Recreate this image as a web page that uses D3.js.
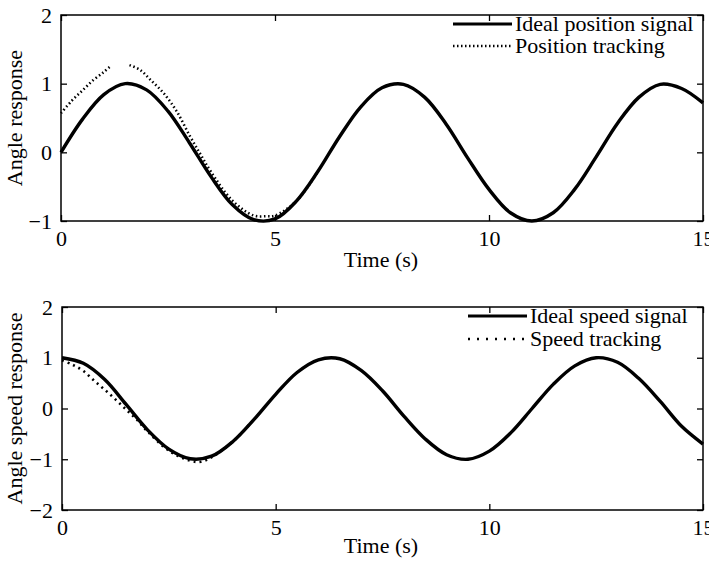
<!DOCTYPE html>
<html>
<head>
<meta charset="utf-8">
<script src="https://cdn.jsdelivr.net/npm/d3@7"></script>
<style>
  body { margin: 0; background: #fff; }
  text { font-family: "Liberation Serif", "Times New Roman", serif; fill: #000; }
  .axis text { font-size: 22px; }
  .axis line { stroke: #000; stroke-width: 1.3; }
  .axis path { display: none; }
</style>
</head>
<body>
<div id="chart"></div>
<script>
// time samples (s)
var timeIdeal  = [0, 0.5, 1, 1.5, 2, 2.5, 3, 3.5, 4, 4.5, 5, 5.5, 6, 6.5, 7, 7.5,
                  8, 8.5, 9, 9.5, 10, 10.5, 11, 11.5, 12, 12.5, 13, 13.5, 14, 14.5, 15];
var posIdeal   = [0, 0.48, 0.84, 1.0, 0.91, 0.6, 0.14, -0.35, -0.76, -0.98, -0.97, -0.71, -0.28, 0.22, 0.66, 0.94,
                  0.99, 0.8, 0.41, -0.08, -0.54, -0.88, -1.0, -0.88, -0.54, -0.07, 0.42, 0.8, 0.99, 0.93, 0.72];
var speedIdeal = [1.0, 0.89, 0.57, 0.08, -0.42, -0.8, -0.99, -0.94, -0.65, -0.21, 0.28, 0.71, 0.96, 0.98, 0.75, 0.35,
                  -0.15, -0.6, -0.91, -1.0, -0.84, -0.48, 0.0, 0.48, 0.84, 1.0, 0.91, 0.59, 0.14, -0.35, -0.7];

// tracking curves (null = gap in the dotted trace); after they merge they sit under the ideal line
var posTrackT   = [0, 0.25, 0.5, 0.75, 1.0, 1.15, 1.4, 1.6, 1.85, 2.1, 2.4, 2.7, 3.0, 3.25, 3.5, 4.0, 4.5, 4.8, 5.0, 5.5, 6.0];
var posTrack    = [0.57, 0.75, 0.9, 1.05, 1.17, 1.25, null, 1.27, 1.2, 1.05, 0.86, 0.6, 0.25, -0.02, -0.28, -0.7, -0.92, -0.93, -0.92, -0.71, -0.28];
var speedTrackT = [0, 0.25, 0.5, 0.75, 1.0, 1.25, 1.5, 1.75, 2.0, 2.5, 3.0, 3.25, 3.5, 4.0, 4.5];
var speedTrack  = [0.95, 0.86, 0.74, 0.55, 0.37, 0.18, -0.02, -0.22, -0.45, -0.83, -1.03, -1.05, -0.96, -0.65, -0.21];

var xTicks      = [0, 5, 10, 15];
var posYTicks   = [-1, 0, 1, 2];
var speedYTicks = [-2, -1, 0, 1, 2];

var W = 709, H = 564;
var svg = d3.select('#chart').append('svg')
            .attr('width', W)
            .attr('height', H);
svg.append('rect').attr('width', W).attr('height', H).attr('fill', '#fff');

var fmt = d3.format('d');

function zip(ts, vs) {
  return ts.map(function(t, i) { return {t: t, v: vs[i]}; });
}

function drawPanel(p) {
  var x = d3.scaleLinear().domain([0, 15]).range([p.left, p.right]);
  var y = d3.scaleLinear().domain(p.yDomain).range([p.bottom, p.top]);
  var g = svg.append('g');

  var line = d3.line()
               .defined(function(d) { return d.v !== null; })
               .x(function(d) { return x(d.t); })
               .y(function(d) { return y(Math.max(d.v, p.yDomain[0])); })
               .curve(d3.curveCatmullRom);

  g.append('path').datum(zip(p.trackT, p.track))
   .attr('d', line)
   .attr('fill', 'none')
   .attr('stroke', '#000')
   .attr('stroke-width', 2.6)
   .attr('stroke-dasharray', p.dash);

  g.append('path').datum(zip(timeIdeal, p.ideal))
   .attr('d', line)
   .attr('fill', 'none')
   .attr('stroke', '#000')
   .attr('stroke-width', 3.4)
   .attr('stroke-linejoin', 'round');

  // frame
  g.append('rect')
   .attr('x', p.left).attr('y', p.top)
   .attr('width', p.right - p.left).attr('height', p.bottom - p.top)
   .attr('fill', 'none').attr('stroke', '#000').attr('stroke-width', 1.5);

  // inward ticks on every side, labels only left/bottom
  g.append('g').attr('class', 'axis')
   .attr('transform', 'translate(0,' + p.bottom + ')')
   .call(d3.axisBottom(x).tickValues(xTicks).tickSizeInner(-6).tickSizeOuter(0).tickPadding(9).tickFormat(fmt));
  g.append('g').attr('class', 'axis')
   .attr('transform', 'translate(0,' + p.top + ')')
   .call(d3.axisTop(x).tickValues(xTicks).tickSizeInner(-6).tickSizeOuter(0).tickFormat(''));
  g.append('g').attr('class', 'axis')
   .attr('transform', 'translate(' + p.left + ',0)')
   .call(d3.axisLeft(y).tickValues(p.yTicks).tickSizeInner(-6).tickSizeOuter(0).tickPadding(9).tickFormat(fmt));
  g.append('g').attr('class', 'axis')
   .attr('transform', 'translate(' + p.right + ',0)')
   .call(d3.axisRight(y).tickValues(p.yTicks).tickSizeInner(-6).tickSizeOuter(0).tickFormat(''));

  g.append('text')
   .attr('x', 381).attr('y', p.bottom + p.xLabelGap)
   .attr('text-anchor', 'middle')
   .style('font-size', '22px')
   .text('Time (s)');

  g.append('text')
   .attr('transform', 'translate(22,' + (p.top + p.bottom) / 2 + ') rotate(-90)')
   .attr('text-anchor', 'middle')
   .style('font-size', '22px')
   .text(p.yLabel);

  // legend
  var lg = g.append('g');
  lg.append('line')
    .attr('x1', p.legX0).attr('x2', p.legX1)
    .attr('y1', p.legY[0]).attr('y2', p.legY[0])
    .attr('stroke', '#000').attr('stroke-width', 3.2);
  lg.append('line')
    .attr('x1', p.legX0).attr('x2', p.legX1)
    .attr('y1', p.legY[1]).attr('y2', p.legY[1])
    .attr('stroke', '#000').attr('stroke-width', 2.6)
    .attr('stroke-dasharray', p.legDash);
  lg.selectAll('text.leg').data(p.legText).enter()
    .append('text')
    .attr('class', 'leg')
    .attr('x', p.legX1 + 3)
    .attr('y', function(d, i) { return p.legY[i] + 7; })
    .style('font-size', '22px')
    .text(function(d) { return d; });
}

drawPanel({
  left: 61, right: 703, top: 15, bottom: 221,
  yDomain: [-1, 2], yTicks: posYTicks,
  ideal: posIdeal, trackT: posTrackT, track: posTrack,
  dash: '1.5,2.6',
  xLabelGap: 46,
  yLabel: 'Angle response',
  legX0: 453, legX1: 512, legY: [24, 46], legDash: '1.5,2.5',
  legText: ['Ideal position signal', 'Position tracking']
});

drawPanel({
  left: 62, right: 703, top: 307, bottom: 510,
  yDomain: [-2, 2], yTicks: speedYTicks,
  ideal: speedIdeal, trackT: speedTrackT, track: speedTrack,
  dash: '2,4',
  xLabelGap: 43,
  yLabel: 'Angle speed response',
  legX0: 468, legX1: 527, legY: [316, 339], legDash: '2,7',
  legText: ['Ideal speed signal', 'Speed tracking']
});
</script>
</body>
</html>
